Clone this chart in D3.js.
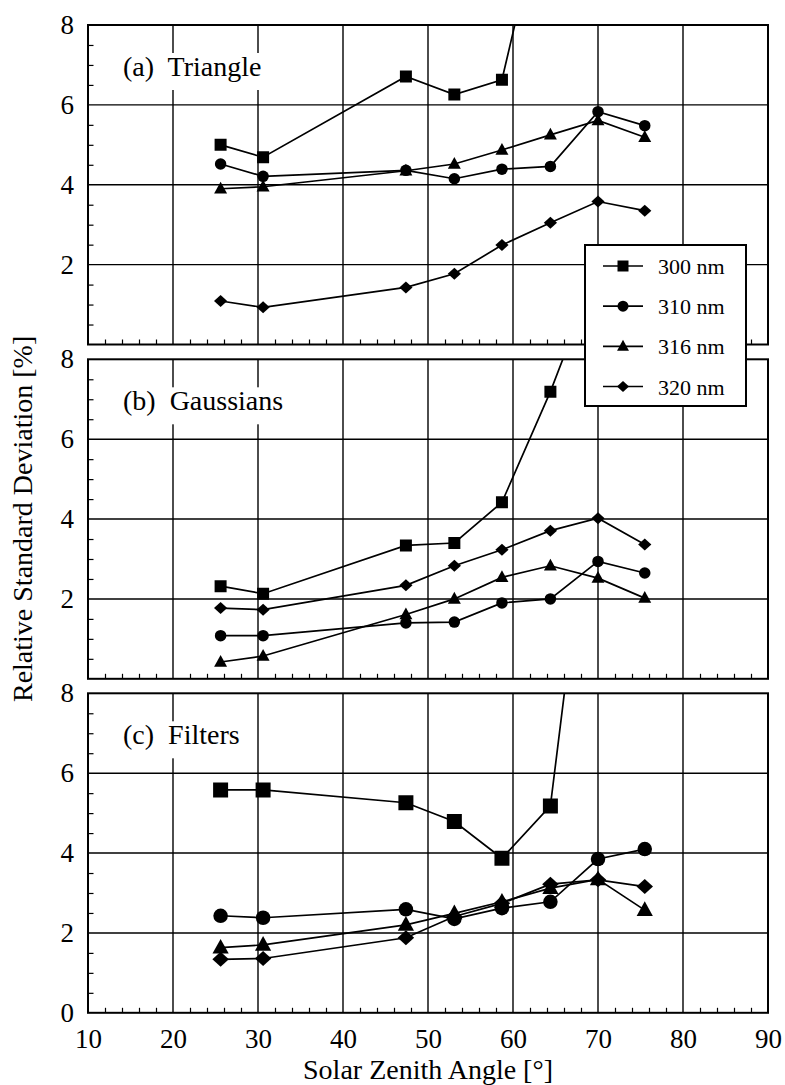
<!DOCTYPE html>
<html>
<head>
<meta charset="utf-8">
<script src="https://cdn.jsdelivr.net/npm/d3@7"></script>
<style>
  html, body { margin: 0; padding: 0; background: #fff; }
  svg { display: block; }
  text { font-family: "Liberation Serif", "Times New Roman", serif; fill: #000; white-space: pre; }
</style>
</head>
<body>
<svg id="chart" width="785" height="1085"></svg>
<script>
// ---------------- DATA ----------------
const sza = [25.6, 30.6, 47.4, 53.1, 58.7, 64.4, 70.0, 75.5];
const seriesNames = ["300 nm", "310 nm", "316 nm", "320 nm"];
const seriesSymbols = ["square", "circle", "triangle", "diamond"];
const panelTitles = ["(a)  Triangle", "(b)  Gaussians", "(c)  Filters"];

// (a) Triangle
const tri300 = [5.00, 4.69, 6.71, 6.26, 6.63, 11.8, null, null];
const tri310 = [4.52, 4.21, 4.36, 4.15, 4.39, 4.46, 5.83, 5.48];
const tri316 = [3.90, 3.95, 4.35, 4.52, 4.87, 5.25, 5.61, 5.19];
const tri320 = [1.09, 0.93, 1.43, 1.77, 2.49, 3.05, 3.58, 3.35];
// (b) Gaussians
const gau300 = [2.32, 2.13, 3.34, 3.40, 4.42, 7.19, 10.3, null];
const gau310 = [1.08, 1.08, 1.40, 1.42, 1.90, 2.00, 2.94, 2.65];
const gau316 = [0.42, 0.57, 1.61, 2.00, 2.54, 2.83, 2.52, 2.02];
const gau320 = [1.77, 1.73, 2.34, 2.83, 3.23, 3.71, 4.02, 3.36];
// (c) Filters
const fil300 = [5.58, 5.58, 5.26, 4.79, 3.87, 5.18, 14.8, null];
const fil310 = [2.43, 2.38, 2.59, 2.35, 2.62, 2.78, 3.85, 4.10];
const fil316 = [1.63, 1.70, 2.20, 2.49, 2.78, 3.12, 3.34, 2.57];
const fil320 = [1.34, 1.36, 1.88, 2.41, 2.74, 3.22, 3.33, 3.16];

const xTicks = [10, 20, 30, 40, 50, 60, 70, 80, 90];
const yTicksUpper = [2, 4, 6, 8];
const yTicksLower = [0, 2, 4, 6, 8];
const xTitle = "Solar Zenith Angle [°]";
const yTitle = "Relative Standard Deviation [%]";

const panelData = [
  [tri300, tri310, tri316, tri320],
  [gau300, gau310, gau316, gau320],
  [fil300, fil310, fil316, fil320]
];

// ---------------- LAYOUT ----------------
const svg = d3.select("#chart");
const plotLeft = 88, plotRight = 768;
const panelTops = [25, 359.3, 693.3];
const panelH = 319.5;

const x = d3.scaleLinear().domain([10, 90]).range([plotLeft, plotRight]);

function markerPath(type, s) {
  const p = d3.path();
  if (type === "square") {
    p.rect(-s / 2, -s / 2, s, s);
  } else if (type === "circle") {
    p.arc(0, 0, s / 2, 0, 2 * Math.PI);
  } else if (type === "triangle") {
    const w = s * 1.08, h = s * 0.98;
    p.moveTo(0, -h * 0.6); p.lineTo(w / 2, h * 0.4); p.lineTo(-w / 2, h * 0.4); p.closePath();
  } else {
    const w = s * 1.1, h = s * 1.0;
    p.moveTo(0, -h / 2); p.lineTo(w / 2, 0); p.lineTo(0, h / 2); p.lineTo(-w / 2, 0); p.closePath();
  }
  return p.toString();
}

const defs = svg.append("defs");

panelData.forEach((series, pi) => {
  const top = panelTops[pi], bottom = top + panelH;
  const y = d3.scaleLinear().domain([0, 8]).range([bottom, top]);
  const g = svg.append("g");
  const clipId = "clip" + pi;
  defs.append("clipPath").attr("id", clipId)
    .append("rect").attr("x", plotLeft).attr("y", top).attr("width", plotRight - plotLeft).attr("height", panelH);

  // grid
  g.append("g").selectAll("line").data(xTicks.slice(1, -1)).join("line")
    .attr("x1", d => x(d)).attr("x2", d => x(d)).attr("y1", top).attr("y2", bottom)
    .attr("stroke", "#000").attr("stroke-width", 1.4);
  g.append("g").selectAll("line").data([2, 4, 6]).join("line")
    .attr("y1", d => y(d)).attr("y2", d => y(d)).attr("x1", plotLeft).attr("x2", plotRight)
    .attr("stroke", "#000").attr("stroke-width", 1.4);

  // minor ticks via axes
  const yMinor = d3.range(0.5, 8, 0.5).filter(v => v % 2 !== 0);
  g.append("g").attr("transform", `translate(${plotLeft},0)`)
    .call(d3.axisLeft(y).tickValues(yMinor).tickSize(-5.5).tickFormat(""))
    .call(a => a.select(".domain").remove())
    .selectAll("line").attr("stroke-width", 1.2);
  const xMinor = d3.range(12, 90, 2).filter(v => v % 10 !== 0);
  g.append("g").attr("transform", `translate(0,${bottom})`)
    .call(d3.axisBottom(x).tickValues(xMinor).tickSize(-5).tickFormat(""))
    .call(a => a.select(".domain").remove())
    .selectAll("line").attr("stroke-width", 1.2);

  // title white box (sized after text is placed)
  const titleBox = g.append("rect").attr("fill", "#fff");

  // border
  g.append("rect").attr("x", plotLeft).attr("y", top).attr("width", plotRight - plotLeft).attr("height", panelH)
    .attr("fill", "none").attr("stroke", "#000").attr("stroke-width", 2);

  // tick labels
  const yl = g.append("g").attr("transform", `translate(${plotLeft},0)`)
    .call(d3.axisLeft(y).tickValues(pi === 2 ? yTicksLower : yTicksUpper).tickSize(0).tickPadding(14).tickFormat(d3.format("d")));
  yl.select(".domain").remove();
  yl.selectAll("text").attr("font-size", 27).attr("font-family", "Liberation Serif, serif");
  if (pi === 2) {
    const xl = g.append("g").attr("transform", `translate(0,${bottom})`)
      .call(d3.axisBottom(x).tickValues(xTicks).tickSize(0).tickPadding(16).tickFormat(d3.format("d")));
    xl.select(".domain").remove();
    xl.selectAll("text").attr("font-size", 27).attr("font-family", "Liberation Serif, serif");
  }

  // data
  const big = pi === 2;
  const mSize = big ? 15 : 12;
  const dg = g.append("g").attr("clip-path", `url(#${clipId})`);
  series.forEach((vals, si) => {
    const pts = sza.map((s, i) => ({ x: s, y: vals[i] })).filter(d => d.y !== null);
    dg.append("path").datum(pts)
      .attr("d", d3.line().x(d => x(d.x)).y(d => y(d.y)))
      .attr("fill", "none").attr("stroke", "#000").attr("stroke-width", 1.7);
    dg.append("g").selectAll("path").data(pts).join("path")
      .attr("transform", d => `translate(${x(d.x)},${y(d.y)})`)
      .attr("d", markerPath(seriesSymbols[si], seriesSymbols[si] === "circle" ? mSize - 0.5 : mSize))
      .attr("fill", "#000");
  });

  // panel title
  const title = g.append("text").attr("x", plotLeft + 35).attr("y", top + 51)
    .attr("font-size", 28).text(panelTitles[pi]);
  const bb = title.node().getBBox();
  titleBox.attr("x", bb.x - 5).attr("y", top + 28).attr("width", bb.width + 10).attr("height", 37);
});

// axis titles
svg.append("text").attr("x", (plotLeft + plotRight) / 2).attr("y", 1079)
  .attr("text-anchor", "middle").attr("font-size", 28).text(xTitle);
svg.append("text").attr("transform", `translate(32,${(panelTops[0] + panelTops[2] + panelH) / 2}) rotate(-90)`)
  .attr("text-anchor", "middle").attr("font-size", 28).text(yTitle);

// legend
const lg = svg.append("g");
lg.append("rect").attr("x", 585).attr("y", 245).attr("width", 161).attr("height", 161)
  .attr("fill", "#fff").attr("stroke", "#000").attr("stroke-width", 2);
const rowY = d3.scalePoint().domain(seriesNames).range([266, 386.5]);
seriesNames.forEach((name, i) => {
  const yy = rowY(name);
  lg.append("line").attr("x1", 603).attr("x2", 643).attr("y1", yy).attr("y2", yy)
    .attr("stroke", "#000").attr("stroke-width", 1.7);
  lg.append("path").attr("transform", `translate(623,${yy})`)
    .attr("d", markerPath(seriesSymbols[i], 11)).attr("fill", "#000");
  lg.append("text").attr("x", 658).attr("y", yy + 8).attr("font-size", 22).text(name);
});
</script>
</body>
</html>
